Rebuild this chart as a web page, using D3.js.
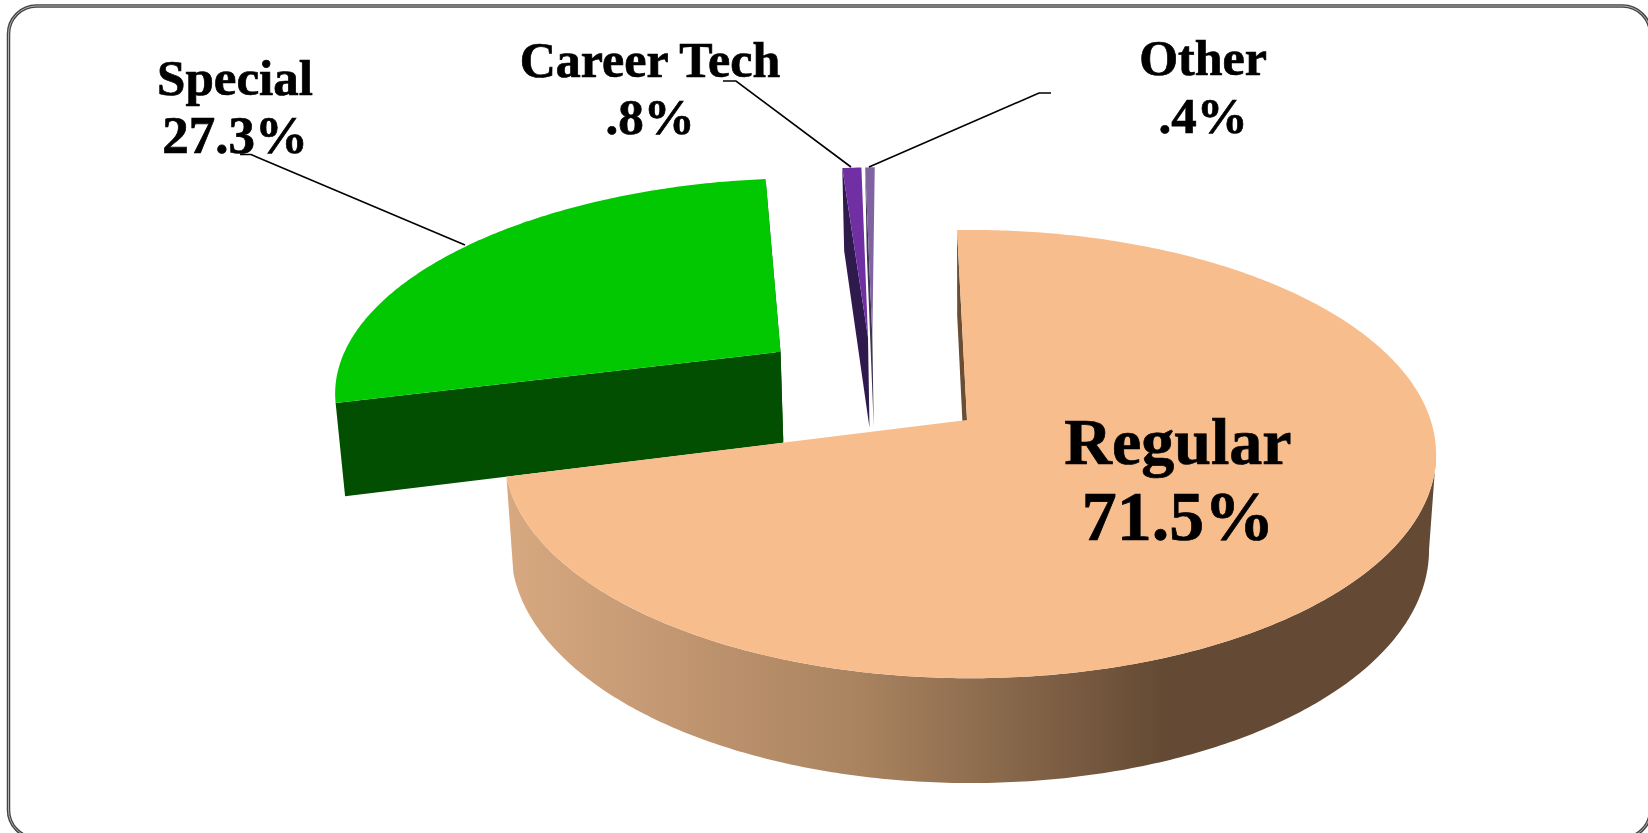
<!DOCTYPE html>
<html><head><meta charset="utf-8">
<style>html,body{margin:0;padding:0;background:#fff;overflow:hidden}svg{display:block}</style>
<script src="https://cdn.jsdelivr.net/npm/d3@7"></script></head>
<body><svg id="c" width="1648" height="833"></svg>
<script>
const categories = ["Regular","Special","Career Tech","Other"];
const values = [71.5,27.3,0.8,0.4];
const valueLabels = ["71.5%","27.3%",".8%",".4%"];
const topColors = ["#f7bd8d","#02c802","#702fa3","#8064a2"];
const wallColors = ["#6b4d33","#024f02","#2e1a4c","#3e3350"];

// 3-D view of the pie
const cx=967, cy=420, R=460.6, Ry=219, persp=0.152, depth0=94, depthExp=0.66, converge=0.985, rimShift=0.0065;
const startDeg=-1.8;
const explode=[[0,0],[-0.425,0.327],[-0.228,0.40],[-0.218,0.40]];
const svg=d3.select("#c");

const defs=svg.append("defs");
const grad=defs.append("linearGradient").attr("id","wall").attr("gradientUnits","userSpaceOnUse")
  .attr("x1",505).attr("x2",1163).attr("y1",0).attr("y2",0);
grad.append("stop").attr("offset",0).attr("stop-color","#d8a981");
grad.append("stop").attr("offset",0.55).attr("stop-color","#a8825f");
grad.append("stop").attr("offset",1).attr("stop-color","#644a34");

svg.append("rect").attr("x",8.5).attr("y",6).attr("width",1642).attr("height",832).attr("rx",28)
  .attr("fill","#fff").attr("stroke","#444").attr("stroke-width",3.5);
svg.append("rect").attr("x",8.5).attr("y",6).attr("width",1642).attr("height",832).attr("rx",28)
  .attr("fill","none").attr("stroke","#ccc").attr("stroke-width",0.8);

const pie=d3.pie().sort(null).value(d=>d)
  .startAngle(startDeg*Math.PI/180).endAngle((startDeg+360)*Math.PI/180);
const arcs=pie(values);

function proj(u,v,lower){
  const s=1/(1+persp*v);
  let x=cx+R*u*s, y=cy-Ry*v*s;
  if(lower){ x=cx+(x-cx)*converge; y+=depth0*Math.pow(s,depthExp); }
  return [x,y];
}
const rimPt=(a,e,lower)=>proj(Math.sin(a)+e[0]+rimShift,Math.cos(a)+e[1],lower);
const apexPt=(e,lower)=>proj(e[0],e[1],lower);
const angles=(a0,a1)=>{const n=Math.max(4,Math.ceil((a1-a0)*90));return d3.range(n+1).map(i=>a0+(a1-a0)*i/n);};
const line=d3.line();
const closed=p=>line(p)+"Z";

function drawRadialWall(i,a){
  const e=explode[i];
  svg.append("path").attr("d",closed([rimPt(a,e,false),rimPt(a,e,true),apexPt(e,true),apexPt(e,false)]))
    .attr("fill",wallColors[i]);
}
function drawTop(i){
  const e=explode[i],d=arcs[i];
  const pts=[apexPt(e,false),...angles(d.startAngle,d.endAngle).map(a=>rimPt(a,e,false))];
  svg.append("path").attr("d",closed(pts)).attr("fill",topColors[i]);
}
// Special
drawRadialWall(1,arcs[1].endAngle);
drawRadialWall(1,arcs[1].startAngle);
drawTop(1);
// Other, Career Tech
drawRadialWall(3,arcs[3].startAngle);
drawTop(3);
drawRadialWall(2,arcs[2].startAngle);
drawTop(2);
// Regular: cut wall, outer wall from the rightmost silhouette point, top face
drawRadialWall(0,arcs[0].startAngle);
const silhouette=Math.PI-Math.acos(persp);
const rg=angles(silhouette,arcs[0].endAngle);
svg.append("path").attr("d",closed([...rg.map(a=>rimPt(a,explode[0],false)),...rg.slice().reverse().map(a=>rimPt(a,explode[0],true))]))
  .attr("fill","url(#wall)");
drawTop(0);

// Leader lines
const leaders=[
  [[240,154.5],[251,154.5],[465,245]],
  [[723,81],[736,81],[851,167]],
  [[869,167],[1039,93],[1051,93]]
];
leaders.forEach(p=>svg.append("path").attr("d",line(p)).attr("fill","none").attr("stroke","#000").attr("stroke-width",1.6));

// Labels
const labelPos=[
  {x:1178,y1:464,y2:540,size:66,size2:70},
  {x:235,y1:95,y2:153,size:51,size2:53},
  {x:650,y1:77,y2:134,size:50,size2:51},
  {x:1203,y1:75,y2:133,size:50,size2:51}
];
categories.forEach((c,i)=>{
  const p=labelPos[i];
  const t=svg.append("text").attr("text-anchor","middle").attr("font-family","'Liberation Serif',serif")
    .attr("font-weight","bold").attr("fill","#000").attr("stroke","#000").attr("stroke-width",0.7);
  t.append("tspan").attr("x",p.x).attr("y",p.y1).attr("font-size",p.size).text(c);
  t.append("tspan").attr("x",p.x).attr("y",p.y2).attr("font-size",p.size2).text(valueLabels[i]);
});
</script></body></html>
